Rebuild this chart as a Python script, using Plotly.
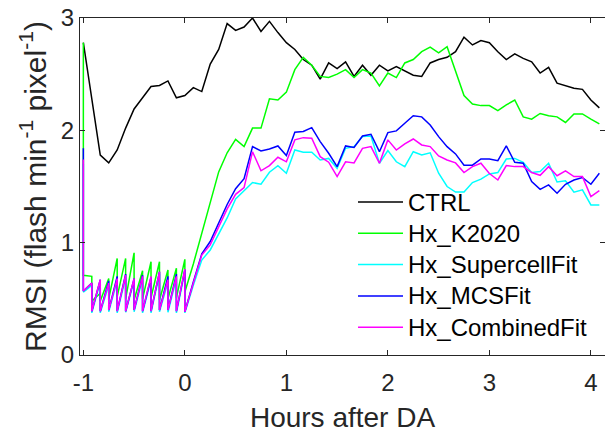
import plotly.graph_objects as go

# ---------------- data ----------------
step_h = 1 / 12  # 5-minute cycles
n_da = 13        # DA times: -1 h ... 0 h
n_total = 62     # -1 h ... 4.083 h

ctrl = [2.78, 2.26, 1.78, 1.71, 1.825, 2.02, 2.19, 2.29, 2.39, 2.40,
        2.44, 2.29, 2.31, 2.38, 2.345, 2.59, 2.72, 2.95, 2.89, 2.92,
        3.0, 2.88, 2.97, 2.87, 2.78, 2.72, 2.63, 2.58, 2.455, 2.60,
        2.55, 2.61, 2.48, 2.58, 2.49, 2.58, 2.53, 2.567, 2.53, 2.49,
        2.48, 2.60, 2.63, 2.65, 2.70, 2.83, 2.76, 2.80, 2.78, 2.70,
        2.63, 2.68, 2.64, 2.61, 2.51, 2.56, 2.42, 2.395, 2.375, 2.365,
        2.27, 2.20]

# forecast (before analysis) and analysis values at each DA time, then free forecast
k2020_fcst = [2.78, 0.70, 0.55, 0.68, 0.86, 0.86, 0.91, 0.75, 0.83, 0.83, 0.757, 0.772, 0.852]
k2020_anal = [0.71, 0.48, 0.48, 0.50, 0.52, 0.50, 0.49, 0.50, 0.51, 0.49, 0.50, 0.51, 0.56]
k2020_free = [0.81, 1.09, 1.36, 1.63, 1.80, 1.92, 1.855, 2.02, 2.02, 2.28, 2.27, 2.34, 2.54,
              2.65, 2.58, 2.48, 2.47, 2.50,
              2.54, 2.47, 2.54, 2.51, 2.395, 2.51, 2.47, 2.60, 2.63, 2.70, 2.74, 2.69, 2.745,
              2.52, 2.31, 2.235, 2.22, 2.22, 2.175, 2.226, 2.27, 2.12, 2.10, 2.15, 2.13, 2.12,
              2.07, 2.146, 2.146, 2.10, 2.057]

sc_fcst = [1.70, 0.62, 0.65, 0.62, 0.66, 0.69, 0.66, 0.68, 0.67, 0.72, 0.65, 0.68, 0.74]
sc_anal = [0.56, 0.375, 0.375, 0.385, 0.375, 0.38, 0.385, 0.375, 0.375, 0.385, 0.38, 0.375, 0.375]
sc_free = [0.62, 0.845, 0.935, 1.08, 1.22, 1.39, 1.46, 1.535, 1.52, 1.627, 1.686, 1.618, 1.825,
           1.805, 1.805, 1.736, 1.75, 1.662,
           1.84, 1.855, 1.945, 1.95, 1.707, 1.82, 1.72, 1.677, 1.81, 1.78, 1.80, 1.618, 1.50,
           1.45, 1.45, 1.535, 1.565, 1.612, 1.624, 1.745, 1.75, 1.716, 1.624, 1.633, 1.707,
           1.54, 1.55, 1.45, 1.47, 1.336, 1.336]

mcs_fcst = [1.84, 0.64, 0.67, 0.66, 0.70, 0.72, 0.68, 0.71, 0.69, 0.74, 0.70, 0.72, 0.76]
mcs_anal = [0.57, 0.39, 0.39, 0.40, 0.39, 0.39, 0.40, 0.39, 0.39, 0.40, 0.40, 0.39, 0.385]
mcs_free = [0.65, 0.90, 1.01, 1.17, 1.34, 1.48, 1.57, 1.855, 1.817, 1.834, 1.861, 1.775, 1.983,
            1.99, 2.024, 1.90, 1.796, 1.677,
            1.861, 1.848, 1.95, 1.965, 1.81, 1.98, 1.995, 2.063, 2.13, 2.12, 2.048, 1.944,
            1.855, 1.79, 1.69, 1.69, 1.745, 1.745, 1.73, 1.861, 1.716, 1.707, 1.543, 1.475,
            1.514, 1.44, 1.52, 1.558, 1.58, 1.52, 1.618]

comb_fcst = [1.74, 0.64, 0.67, 0.64, 0.68, 0.71, 0.68, 0.70, 0.70, 0.74, 0.67, 0.70, 0.765]
comb_anal = [0.57, 0.39, 0.39, 0.40, 0.39, 0.39, 0.40, 0.39, 0.39, 0.40, 0.40, 0.39, 0.385]
comb_free = [0.64, 0.89, 0.98, 1.14, 1.30, 1.43, 1.49, 1.81, 1.64, 1.686, 1.76, 1.72, 1.915,
             1.935, 1.93, 1.766, 1.716, 1.588,
             1.72, 1.71, 1.84, 1.855, 1.707, 1.915, 1.825, 1.88, 1.923, 1.87, 1.855, 1.772,
             1.736, 1.71, 1.624, 1.677, 1.707, 1.615, 1.558, 1.686, 1.677, 1.677, 1.624, 1.60,
             1.677, 1.596, 1.64, 1.588, 1.588, 1.41, 1.463]

names = ["CTRL", "Hx_K2020", "Hx_SupercellFit", "Hx_MCSFit", "Hx_CombinedFit"]
colors = ["#000000", "#00FF00", "#00FFFF", "#0000FF", "#FF00FF"]

x_ticks = [-1, 0, 1, 2, 3, 4]
x_ticklabels = ["-1", "0", "1", "2", "3", "4"]
y_ticks = [0, 1, 2, 3]

# ---------------- build ----------------
times = [-1 + k * step_h for k in range(n_total)]


def cycled(fcst, anal, free):
    xs, ys = [], []
    for k in range(n_da):
        xs += [times[k], times[k]]
        ys += [fcst[k], anal[k]]
    xs += times[n_da:]
    ys += free
    return xs, ys


series = [(times, ctrl),
          cycled(k2020_fcst, k2020_anal, k2020_free),
          cycled(sc_fcst, sc_anal, sc_free),
          cycled(mcs_fcst, mcs_anal, mcs_free),
          cycled(comb_fcst, comb_anal, comb_free)]

LW = 1.5
fig = go.Figure()
for (xs, ys), nm, c in zip(series, names, colors):
    fig.add_trace(go.Scatter(x=xs, y=ys, mode="lines", name=nm, showlegend=False,
                             line=dict(color=c, width=LW)))

# ---- plot-area geometry (px) ----
W, H = 605, 433
ML, MR, MT, MB = 80, 0, 18, 78
pw, ph = W - ML - MR, H - MT - MB


def px_to_paper(px, py):
    return (px - ML) / pw, (H - MB - py) / ph


# ---- manual legend (MATLAB style, no box) ----
leg_x0, leg_x1, leg_tx = 358, 403, 408
leg_top, leg_dy = 202, 31.3
for i, (nm, c) in enumerate(zip(names, colors)):
    py = leg_top + i * leg_dy
    xa, ya = px_to_paper(leg_x0, py)
    xb, _ = px_to_paper(leg_x1, py)
    xt, _ = px_to_paper(leg_tx, py)
    fig.add_shape(type="line", xref="paper", yref="paper", x0=xa, x1=xb, y0=ya, y1=ya,
                  line=dict(color=c, width=LW))
    fig.add_annotation(xref="paper", yref="paper", x=xt, y=ya, text=nm, showarrow=False,
                       xanchor="left", yanchor="middle", xshift=-2,
                       font=dict(size=24, color="#000000"))

axis_col = "#262626"
font_fam = "Liberation Sans, Arial, sans-serif"

fig.update_layout(
    width=W, height=H,
    margin=dict(l=ML, r=MR, t=MT, b=MB),
    paper_bgcolor="white", plot_bgcolor="white",
    font=dict(family=font_fam, color=axis_col, size=24),
    showlegend=False,
    xaxis=dict(range=[-1.033, 4.139], tickvals=x_ticks, ticktext=x_ticklabels,
               ticks="inside", ticklen=5, tickcolor=axis_col, tickwidth=1,
               showline=True, linecolor=axis_col, linewidth=1, mirror="ticks",
               showgrid=False, zeroline=False, ticklabelstandoff=6,
               tickfont=dict(size=24, color=axis_col),
               title=dict(text="Hours after DA", font=dict(size=28, color=axis_col), standoff=15)),
    yaxis=dict(range=[0, 3], tickvals=y_ticks,
               ticks="inside", ticklen=5, tickcolor=axis_col, tickwidth=1,
               showline=True, linecolor=axis_col, linewidth=1, mirror="ticks",
               showgrid=False, zeroline=False,
               tickfont=dict(size=24, color=axis_col),
               title=dict(text="RMSI (flash min<sup>-1</sup> pixel<sup>-1</sup>)",
                          font=dict(size=30, color=axis_col), standoff=5)),
)

fig.write_html("out.html")
